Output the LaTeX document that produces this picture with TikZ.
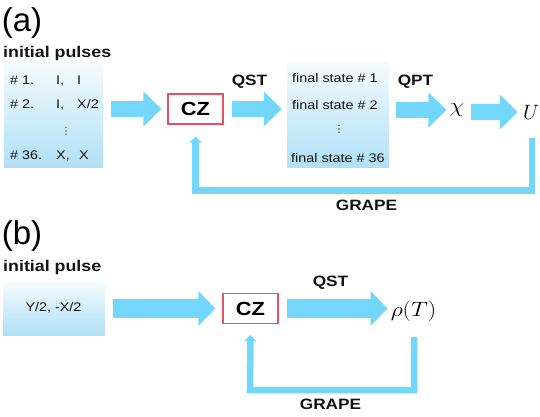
\documentclass[tikz,border=0pt]{standalone}
\usepackage{graphicx}
\usepackage{fontspec}
\setmainfont{Liberation Sans}
\newfontfamily\wsf{Liberation Sans}[FakeStretch=1.15]
\newfontfamily\djv{DejaVu Sans}
\usetikzlibrary{arrows.meta,calc}
\definecolor{arr}{RGB}{114,215,251}
\definecolor{czred}{RGB}{232,80,106}
\definecolor{boxtop}{RGB}{245,251,254}
\definecolor{boxbot}{RGB}{176,224,247}
\definecolor{txt}{RGB}{20,20,20}
\begin{document}
\begin{tikzpicture}[x=1pt,y=-1pt,
  lbl/.style={font=\wsf\bfseries\fontsize{15}{18}\selectfont, inner sep=0, text=txt},
  head/.style={font=\wsf\bfseries\fontsize{15.5}{18}\selectfont, inner sep=0, anchor=base west, text=txt},
  row/.style={font=\wsf\fontsize{12.5}{15}\selectfont, inner sep=0, anchor=base west, text=txt},
  dots/.style={font=\djv\fontsize{10}{10}\selectfont, inner sep=0, text=txt},
  panel/.style={font=\fontsize{33}{38}\selectfont, inner sep=0},
  shbox/.style={rectangle, inner sep=0, top color=boxtop, bottom color=boxbot, draw=none},
  czbox/.style={rectangle, draw=czred, line width=1.2pt, fill=white, inner sep=0, minimum width=55, minimum height=30, font=\wsf\bfseries\fontsize{19}{22}\selectfont},
  bigarr/.style={draw=arr, line width=16, -{Triangle[width=34pt,length=18pt]}},
  bigarrb/.style={draw=arr, line width=18.5, -{Triangle[width=34pt,length=17pt]}},
  fb/.style={draw=arr, line width=6.5, line join=miter, -{Triangle[width=12pt,length=6pt]}},
  mth/.style={inner sep=0, font=\fontsize{21}{24}\selectfont}
]
\useasboundingbox (0,0) rectangle (540,417);

% ---------- (a) ----------
\node[panel] (pa) at (22,22.5) {(a)};
\node[head] (ipa) at (3,57.4) {initial pulses};
\node[shbox, minimum width=99, minimum height=104] (inA) at (53.5,115) {};
\node[row] (a11) at (10,84.5) {\# 1.};
\node[row] (a12) at (56,84.5) {I,};
\node[row] (a13) at (77,84.5) {I};
\node[row] (a21) at (10,109) {\# 2.};
\node[row] (a22) at (56,109) {I,};
\node[row] (a23) at (77,109) {X/2};
\node[dots] (ad) at (66,131) {⋮};
\node[row] (a31) at (10,159) {\# 36.};
\node[row] (a32) at (56,159) {X,};
\node[row] (a33) at (79,159) {X};

\node[czbox] (czA) at (195.5,109) {CZ};

\node[shbox, minimum width=102, minimum height=104] (finA) at (338,115) {};
\node[row] (f1) at (292,83) {final state \# 1};
\node[row] (f2) at (292,109.5) {final state \# 2};
\node[dots] (fd) at (339,129) {⋮};
\node[row] (f3) at (291,162) {final state \# 36};

\node[mth] (chi) at (457,110) {\scalebox{1.15}[1]{$\chi$}};
\node[mth] (U) at (531,112) {$U$};

\draw[bigarr, shorten <=8pt, shorten >=6pt] (inA.east |- czA.west) -- (czA.west);
\draw[bigarr, shorten <=8pt, shorten >=5pt] (czA.east) -- (czA.east -| finA.west);
\draw[bigarr, shorten <=7pt, shorten >=3pt] (finA.east |- chi.west) -- (chi.west);
\draw[bigarr, shorten <=6pt, shorten >=5pt] (chi.east |- U.west) -- (U.west);

\node[lbl] (qsta) at (249.5,81.5) {QST};
\node[lbl] (qpta) at (415.5,81.5) {QPT};

\coordinate (fa1) at (532,138);
\coordinate (fa2) at (195.5,190.5);
\coordinate (fa3) at ($(czA.south)+(0,12)$);
\draw[fb] (fa1) |- (fa2) -- (fa3);
\node[lbl] (grapea) at (366.5,205.5) {GRAPE};

% ---------- (b) ----------
\node[panel] (pb) at (22,236) {(b)};
\node[head] (ipb) at (3,271.7) {initial pulse};
\node[shbox, minimum width=102, minimum height=53] (inB) at (54,308.5) {};
\node[row, anchor=center] (yb) at (53.5,308) {Y/2, -X/2};

\node[czbox] (czB) at (250.5,308.5) {CZ};
\node[mth] (rho) at (413.5,311.7) {\scalebox{1.14}[1]{$\rho(T)$}};

\draw[bigarrb, shorten <=8pt, shorten >=7pt] (inB.east |- czB.west) -- (czB.west);
\draw[bigarrb, shorten <=8pt, shorten >=3pt] (czB.east) -- (czB.east -| rho.west);

\node[lbl] (qstb) at (330.5,283) {QST};

\coordinate (fb1) at (414,337);
\coordinate (fb2) at (250,390);
\coordinate (fb3) at ($(czB.south)+(0,11)$);
\draw[fb] (fb1) |- (fb2) -- (fb3);
\node[lbl] (grapeb) at (330.5,404) {GRAPE};
\end{tikzpicture}
\end{document}
